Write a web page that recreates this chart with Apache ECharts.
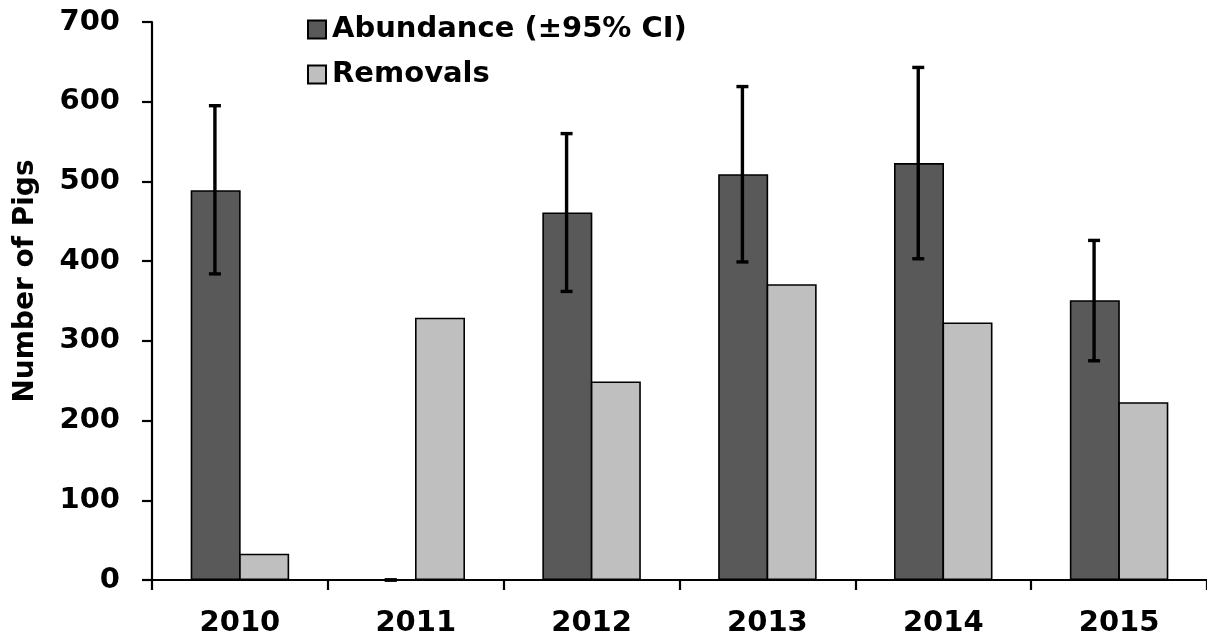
<!DOCTYPE html>
<html>
<head>
<meta charset="utf-8">
<script src="https://cdn.jsdelivr.net/npm/echarts@6/dist/echarts.min.js"></script>
<style>
  html, body { margin: 0; padding: 0; background: #ffffff; }
  #chart { width: 1207px; height: 638px; }
</style>
</head>
<body>
<div id="chart"></div>
<script>
// Wild pig abundance estimates and removals per year
const years = ['2010', '2011', '2012', '2013', '2014', '2015'];
const abundance = [489, 0, 461, 509, 523, 351];
const ciLower = [384, 0, 362, 399, 403, 275];
const ciUpper = [595, 0, 560, 619, 643, 426];
const removals = [33, 329, 249, 371, 323, 223];
const yTicks = [0, 100, 200, 300, 400, 500, 600, 700];

const FONT = '"DejaVu Sans", Verdana, sans-serif';
const BAR_W = 50;

const chart = echarts.init(document.getElementById('chart'), null, { renderer: 'canvas' });

// error bar: vertical whisker with caps, centred on the abundance bar
function renderErrorBar(params, api) {
  const idx = api.value(0);
  const lo = api.coord([idx, api.value(1)]);
  const hi = api.coord([idx, api.value(2)]);
  const x = lo[0] - BAR_W / 2;
  const capHalf = 6;
  const style = { stroke: '#000', lineWidth: 3.4 };
  return {
    type: 'group',
    children: [
      { type: 'line', shape: { x1: x, y1: lo[1], x2: x, y2: hi[1] }, style },
      { type: 'line', shape: { x1: x - capHalf, y1: hi[1], x2: x + capHalf, y2: hi[1] }, style },
      { type: 'line', shape: { x1: x - capHalf, y1: lo[1], x2: x + capHalf, y2: lo[1] }, style }
    ]
  };
}

chart.setOption({
  animation: false,
  backgroundColor: '#ffffff',
  textStyle: { fontFamily: FONT },
  legend: {
    orient: 'vertical',
    left: 302,
    top: 10,
    itemWidth: 18,
    itemHeight: 18,
    itemGap: 16,
    icon: 'rect',
    data: ['Abundance (±95% CI)', 'Removals'],
    textStyle: { fontFamily: FONT, fontWeight: 'bold', fontSize: 29, color: '#000', padding: [0, 0, 0, 1] }
  },
  grid: { left: 152, top: 22, width: 1056, bottom: 57, containLabel: false },
  xAxis: {
    type: 'category',
    data: years,
    boundaryGap: true,
    axisLine: { show: true, lineStyle: { color: '#000', width: 2.2 } },
    axisTick: { show: true, inside: false, length: 10, lineStyle: { color: '#000', width: 2.2 } },
    axisLabel: { color: '#000', fontFamily: FONT, fontWeight: 'bold', fontSize: 29, margin: 29 },
    splitLine: { show: false }
  },
  yAxis: {
    type: 'value',
    min: yTicks[0],
    max: yTicks[yTicks.length - 1],
    interval: 100,
    name: 'Number of Pigs',
    nameLocation: 'middle',
    nameGap: 112,
    nameTextStyle: { color: '#000', fontFamily: FONT, fontWeight: 'bold', fontSize: 28, padding: [0, 0, 0, 40] },
    axisLine: { show: true, lineStyle: { color: '#000', width: 2.2 } },
    axisTick: { show: true, inside: false, length: 10, lineStyle: { color: '#000', width: 2.2 } },
    axisLabel: { color: '#000', fontFamily: FONT, fontWeight: 'bold', fontSize: 29, margin: 32 },
    splitLine: { show: false }
  },
  series: [
    {
      name: 'Abundance (±95% CI)',
      type: 'bar',
      data: abundance,
      barWidth: BAR_W,
      barGap: '-3%',
      itemStyle: { color: '#595959', borderColor: '#000', borderWidth: 1.6 },
      z: 2
    },
    {
      name: 'Removals',
      type: 'bar',
      data: removals,
      barWidth: BAR_W,
      barGap: '-3%',
      itemStyle: { color: '#bfbfbf', borderColor: '#000', borderWidth: 1.6 },
      z: 2
    },
    {
      name: 'ci',
      type: 'custom',
      renderItem: renderErrorBar,
      data: years.map((y, i) => [i, ciLower[i], ciUpper[i]]),
      encode: { x: 0, y: [1, 2] },
      z: 5,
      silent: true
    }
  ]
});
</script>
</body>
</html>
